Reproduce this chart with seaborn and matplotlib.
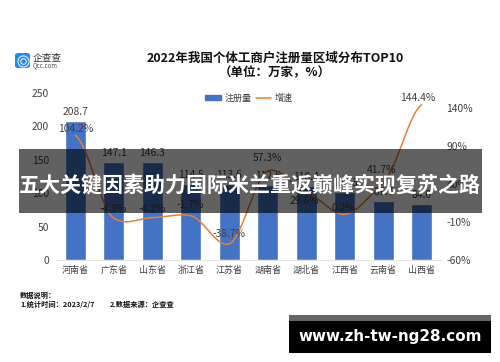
import numpy as np
import pandas as pd
import matplotlib.pyplot as plt
import seaborn as sns
from matplotlib.lines import Line2D
from matplotlib.patches import FancyBboxPatch, Patch, Rectangle

provinces = ["河南省", "广东省", "山东省", "浙江省", "江苏省", "湖南省", "湖北省", "江西省", "云南省", "山西省"]
registered = [208.7, 147.1, 146.3, 114.5, 113.6, 112.6, 110.4, 102.3, 87.7, 84.0]
growth = [104.2, -4.9, -4.2, -1.7, -38.7, 57.3, 29.6, 0.2, 41.7, 144.4]
left_ticks = [0, 50, 100, 150, 200, 250]
right_ticks = [-60, -10, 40, 90, 140]

sns.set_theme(style="white")
plt.rcParams["font.family"] = ["Noto Sans CJK SC", "DejaVu Sans"]

W, H = 500, 362
BAR = "#4472c4"
LINE = "#ed7d31"
GREY = "#404040"


def px_x(x):
    return x / W


def px_y(y):
    return 1 - y / H


# smooth curve through the growth values, tension kept low so it doesn't dip much
def smooth(values, n=30, k=0.3):
    p = np.array(values, dtype=float)
    m = np.zeros(len(p))
    m[1:-1] = k * (p[2:] - p[:-2])
    m[0] = k * (p[1] - p[0])
    m[-1] = k * (p[-1] - p[-2])
    xs, ys = [], []
    for i in range(len(p) - 1):
        t = np.linspace(0, 1, n)
        ys.append((2 * t**3 - 3 * t**2 + 1) * p[i] + (t**3 - 2 * t**2 + t) * m[i]
                  + (-2 * t**3 + 3 * t**2) * p[i + 1] + (t**3 - t**2) * m[i + 1])
        xs.append(i + t)
    return pd.DataFrame({"x": np.concatenate(xs), "y": np.concatenate(ys)})


fig = plt.figure(figsize=(W / 100, H / 100), dpi=100, facecolor="white")
ax = fig.add_axes([px_x(56), px_y(260), (441 - 56) / W, (260 - 93) / H])

df = pd.DataFrame({"province": provinces, "registered": registered})
sns.barplot(data=df, x="province", y="registered", color=BAR, saturation=1, width=0.55, ax=ax)
ax.set_xlim(-0.5, 9.5)
ax.set_ylim(0, 250)
ax.set_yticks(left_ticks)
ax.set_xlabel("")
ax.set_ylabel("")
ax.tick_params(axis="y", length=0, labelsize=7.4, labelcolor=GREY, pad=5)
ax.tick_params(axis="x", length=0, labelsize=6.5, labelcolor=GREY, pad=4)
sns.despine(ax=ax, left=True, top=True, right=True)
ax.spines["bottom"].set_color("#e4e4e4")
ax.spines["bottom"].set_linewidth(0.8)

ax2 = ax.twinx()
sns.lineplot(data=smooth(growth), x="x", y="y", color=LINE, linewidth=1.1, sort=False, ax=ax2, errorbar=None)
ax2.set_xlim(-0.5, 9.5)
ax2.set_ylim(-60, 160)
ax2.set_yticks(right_ticks)
ax2.set_yticklabels([f"{v}%" for v in right_ticks])
ax2.set_ylabel("")
ax2.tick_params(axis="y", length=0, labelsize=7.4, labelcolor=GREY, pad=4)
sns.despine(ax=ax2, left=True, top=True, right=True, bottom=True)

for i, v in enumerate(registered):
    ax.annotate(f"{v:.1f}", (i, v), xytext=(0, 4), textcoords="offset pixels", ha="center", va="bottom",
                fontsize=7.4, color=GREY)

growth_offsets = [(0, 1), (-1, 4), (0, 4), (-1, 6), (0, 5), (0, 8), (-2, -14), (-1, 1), (-2, 8), (-4, 2)]
for i, v in enumerate(growth):
    ox, oy = growth_offsets[i]
    ax2.annotate(f"{v}%", (i, v), xytext=(ox, oy), textcoords="offset pixels", ha="center", va="bottom",
                 fontsize=7.4, color=GREY)

# title and legend
fig.text(px_x(275), px_y(58), "2022年我国个体工商户注册量区域分布TOP10", ha="center", va="center",
         fontsize=9, fontweight="bold", color="#111111")
fig.text(px_x(275), px_y(73), "（单位：万家，%）", ha="center", va="center",
         fontsize=9, fontweight="bold", color="#111111")
fig.legend(handles=[Patch(color=BAR, label="注册量"), Line2D([0], [0], color=LINE, lw=1.1, label="增速")],
           loc="center", bbox_to_anchor=(px_x(249), px_y(98)), ncol=2, frameon=False, fontsize=6.5,
           labelcolor=GREY, handlelength=1.7, handleheight=0.6, handletextpad=0.4, columnspacing=0.5)

# logo
fig.add_artist(FancyBboxPatch((px_x(15), px_y(68)), 15 / W, 15 / H, boxstyle="round,pad=0,rounding_size=0.006",
                              transform=fig.transFigure, facecolor="#1f8cf5", edgecolor="none"))
for size, color in [(8, "white"), (4, "white")]:
    fig.add_artist(Line2D([px_x(22.5)], [px_y(60.5)], marker="o", markersize=size, markerfacecolor="none",
                          markeredgecolor=color, markeredgewidth=0.7, transform=fig.transFigure))
fig.text(px_x(33), px_y(58), "企查查", ha="left", va="center", fontsize=7, color="#333333")
fig.text(px_x(33), px_y(65.5), "Qcc.com", ha="left", va="center", fontsize=4.4, color="#555555")

# footnote
fig.text(px_x(20), px_y(295), "数据说明：", ha="left", va="center", fontsize=5.2, fontweight="bold", color="#111111")
fig.text(px_x(20), px_y(304), "1.统计时间：2023/2/7", ha="left", va="center", fontsize=5.2, fontweight="bold", color="#111111")
fig.text(px_x(110), px_y(304), "2.数据来源：企查查", ha="left", va="center", fontsize=5.2, fontweight="bold", color="#111111")

# banner across the chart
fig.add_artist(Rectangle((px_x(19), px_y(213)), 463 / W, 64 / H, transform=fig.transFigure,
                         facecolor="black", alpha=0.62, edgecolor="none", zorder=5))
fig.text(px_x(250), px_y(185), "五大关键因素助力国际米兰重返巅峰实现复苏之路", ha="center", va="center",
         fontsize=15.1, fontweight="bold", color="white", zorder=6)

# site box
fig.add_artist(Rectangle((px_x(289), px_y(353)), 202 / W, 38 / H, transform=fig.transFigure,
                         facecolor="black", edgecolor="none", zorder=5))
fig.add_artist(Rectangle((px_x(289), px_y(321)), 202 / W, 6 / H, transform=fig.transFigure,
                         facecolor="#666666", edgecolor="none", zorder=5))
fig.text(px_x(390), px_y(337), "www.zh-tw-ng28.com", ha="center", va="center", fontsize=10.9,
         fontweight="bold", family="DejaVu Sans", color="white", zorder=6)

fig.savefig("out.png", dpi=100)
